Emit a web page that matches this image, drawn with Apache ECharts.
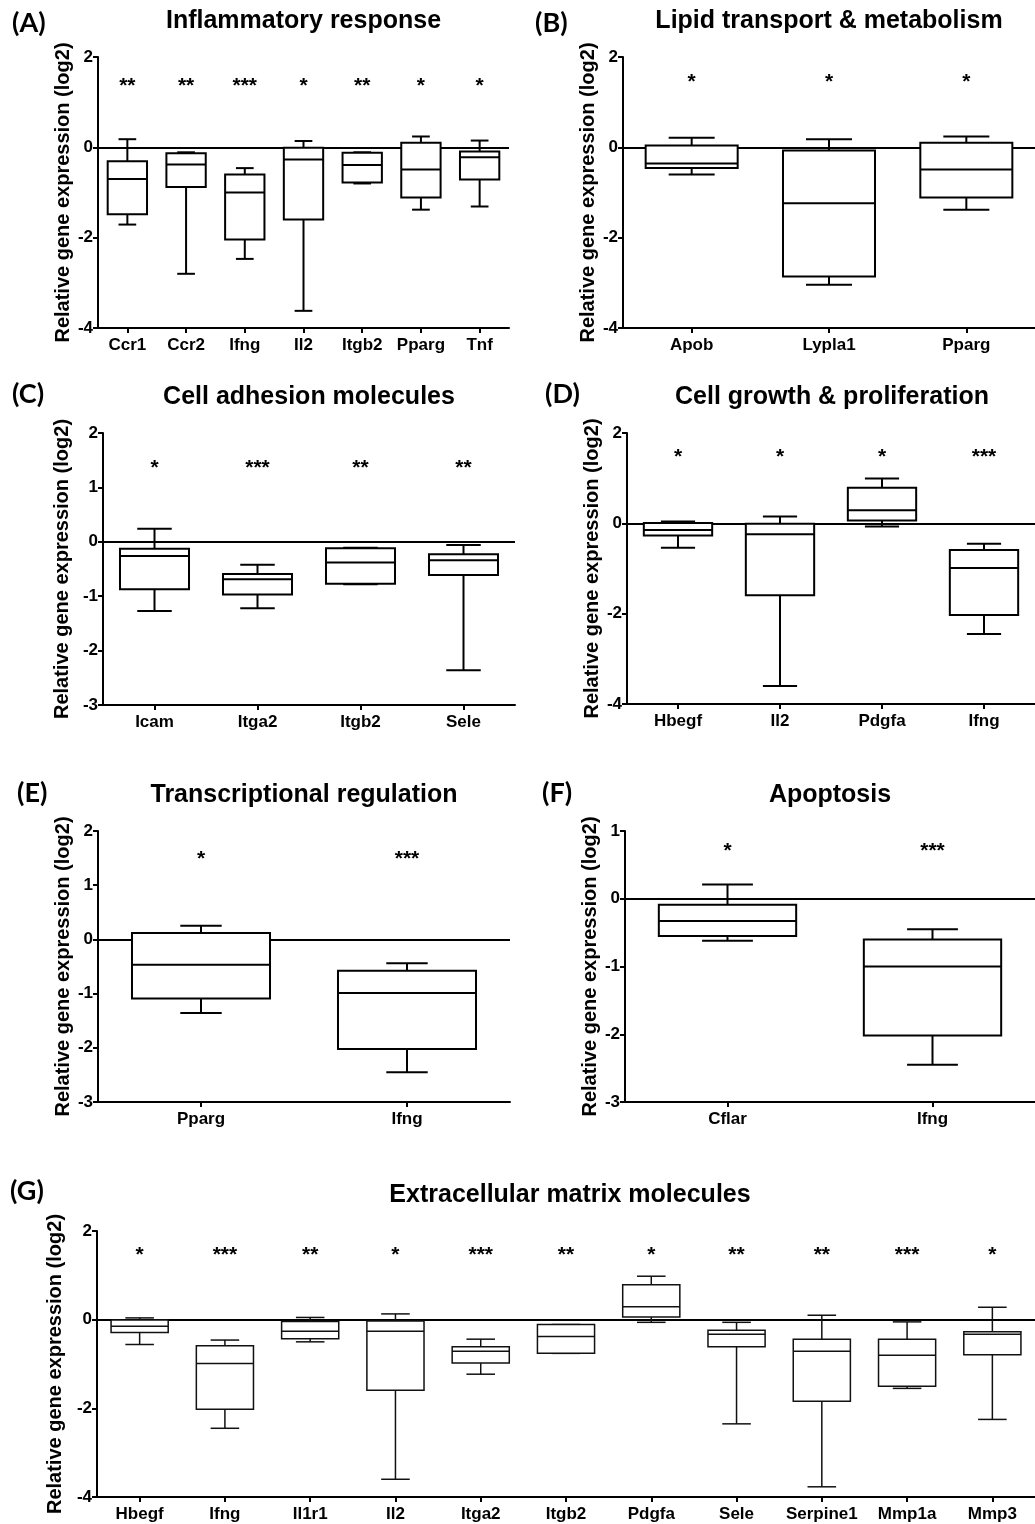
<!DOCTYPE html>
<html>
<head>
<meta charset="utf-8">
<title>Relative gene expression</title>
<script src="https://cdn.jsdelivr.net/npm/echarts@6/dist/echarts.min.js"></script>
<style>
  html, body { margin: 0; padding: 0; background: #fff; overflow: hidden; }
  #chart { width: 1035px; height: 1524px; }
</style>
</head>
<body>
<div id="chart"></div>
<script>
// Box values per gene: [min, Q1, median, Q3, max] (log2 relative expression)
const catsA = ['Ccr1', 'Ccr2', 'Ifng', 'Il2', 'Itgb2', 'Pparg', 'Tnf'];
const boxA = [
  [-1.71, -1.48, -0.70, -0.31, 0.18],
  [-2.80, -0.88, -0.38, -0.13, -0.11],
  [-2.47, -2.04, -1.00, -0.60, -0.46],
  [-3.62, -1.60, -0.27, -0.01, 0.14],
  [-0.80, -0.78, -0.39, -0.12, -0.11],
  [-1.38, -1.11, -0.49, 0.10, 0.24],
  [-1.31, -0.71, -0.22, -0.09, 0.15]
];
const sigA = ['**', '**', '***', '*', '**', '*', '*'];

const catsB = ['Apob', 'Lypla1', 'Pparg'];
const boxB = [
  [-0.60, -0.46, -0.36, 0.04, 0.21],
  [-3.04, -2.86, -1.24, -0.07, 0.18],
  [-1.38, -1.11, -0.49, 0.10, 0.24]
];
const sigB = ['*', '*', '*'];

const catsC = ['Icam', 'Itga2', 'Itgb2', 'Sele'];
const boxC = [
  [-1.27, -0.87, -0.26, -0.13, 0.24],
  [-1.22, -0.97, -0.69, -0.59, -0.42],
  [-0.78, -0.77, -0.38, -0.12, -0.11],
  [-2.36, -0.61, -0.34, -0.23, -0.06]
];
const sigC = ['*', '***', '**', '**'];

const catsD = ['Hbegf', 'Il2', 'Pdgfa', 'Ifng'];
const boxD = [
  [-0.54, -0.27, -0.15, 0.01, 0.04],
  [-3.60, -1.59, -0.24, -0.01, 0.15],
  [-0.07, 0.06, 0.29, 0.79, 0.99],
  [-2.45, -2.03, -0.99, -0.59, -0.45]
];
const sigD = ['*', '*', '*', '***'];

const catsE = ['Pparg', 'Ifng'];
const boxE = [
  [-1.36, -1.09, -0.47, 0.12, 0.25],
  [-2.45, -2.02, -0.99, -0.58, -0.44]
];
const sigE = ['*', '***'];

const catsF = ['Cflar', 'Ifng'];
const boxF = [
  [-0.62, -0.55, -0.33, -0.09, 0.21],
  [-2.45, -2.02, -1.00, -0.60, -0.45]
];
const sigF = ['*', '***'];

const catsG = ['Hbegf', 'Ifng', 'Il1r1', 'Il2', 'Itga2', 'Itgb2', 'Pdgfa', 'Sele', 'Serpine1', 'Mmp1a', 'Mmp3'];
const boxG = [
  [-0.56, -0.29, -0.15, -0.01, 0.04],
  [-2.45, -2.02, -0.99, -0.59, -0.46],
  [-0.50, -0.43, -0.26, -0.04, 0.05],
  [-3.60, -1.59, -0.26, -0.03, 0.13],
  [-1.23, -0.98, -0.71, -0.61, -0.44],
  [-0.76, -0.76, -0.38, -0.11, -0.11],
  [-0.06, 0.06, 0.29, 0.79, 0.98],
  [-2.35, -0.61, -0.33, -0.24, -0.06],
  [-3.77, -1.84, -0.71, -0.44, 0.10],
  [-1.55, -1.50, -0.80, -0.44, -0.05],
  [-2.25, -0.79, -0.33, -0.27, 0.28]
];
const sigG = ['*', '***', '**', '*', '***', '**', '*', '**', '**', '***', '*'];

const FONT = '"Liberation Sans", Arial, Helvetica, sans-serif';
const LETTER_FONT = 'Lato, "Open Sans", sans-serif';
const Y_NAME = 'Relative gene expression (log2)';

// Panel layout: plot rectangles, axis ranges and annotation placement
const panels = [
  { cats: catsA, box: boxA, sig: sigA, title: 'Inflammatory response', letter: '(A)',
    grid: { left: 98, top: 57, width: 411, height: 271 }, min: -4, max: 2, step: 2,
    star: 1.40, nameGap: 23, cap: 0.45, lw: 2, color: '#000', titleY: 21, letterX: 12, letterY: 23 },
  { cats: catsB, box: boxB, sig: sigB, title: 'Lipid transport & metabolism', letter: '(B)',
    grid: { left: 623, top: 57, width: 412, height: 271 }, min: -4, max: 2, step: 2,
    star: 1.49, nameGap: 23, cap: 0.5, lw: 2, color: '#000', titleY: 21, letterX: 535, letterY: 23 },
  { cats: catsC, box: boxC, sig: sigC, title: 'Cell adhesion molecules', letter: '(C)',
    grid: { left: 103, top: 433, width: 412, height: 272 }, min: -3, max: 2, step: 1,
    star: 1.39, nameGap: 31, cap: 0.5, lw: 2, color: '#000', titleY: 397, letterX: 12, letterY: 394 },
  { cats: catsD, box: boxD, sig: sigD, title: 'Cell growth & proliferation', letter: '(D)',
    grid: { left: 627, top: 433, width: 410, height: 271 }, min: -4, max: 2, step: 2,
    star: 1.51, nameGap: 25, cap: 0.5, lw: 2, color: '#000', titleY: 397, letterX: 545, letterY: 394 },
  { cats: catsE, box: boxE, sig: sigE, title: 'Transcriptional regulation', letter: '(E)',
    grid: { left: 98, top: 831, width: 412, height: 271 }, min: -3, max: 2, step: 1,
    star: 1.51, nameGap: 23, cap: 0.3, lw: 2, color: '#000', titleY: 795, letterX: 17, letterY: 793 },
  { cats: catsF, box: boxF, sig: sigF, title: 'Apoptosis', letter: '(F)',
    grid: { left: 625, top: 831, width: 410, height: 271 }, min: -3, max: 1, step: 1,
    star: 0.73, nameGap: 25, cap: 0.37, lw: 2, color: '#000', titleY: 795, letterX: 542, letterY: 793 },
  { cats: catsG, box: boxG, sig: sigG, title: 'Extracellular matrix molecules', letter: '(G)',
    grid: { left: 97, top: 1231, width: 946, height: 266 }, min: -4, max: 2, step: 2,
    star: 1.51, nameGap: 29, cap: 0.5, lw: 1.5, color: '#111', titleY: 1195, letterX: 10, letterY: 1191 }
];

const BOX_FRACTION = 0.67;

// Box-and-whisker glyph with short whisker caps and a significance mark above
function makeBoxRenderer(p) {
  return function (params, api) {
    const k = api.value(0);
    const pMin = api.coord([k, api.value(1)]);
    const pQ1 = api.coord([k, api.value(2)]);
    const pMed = api.coord([k, api.value(3)]);
    const pQ3 = api.coord([k, api.value(4)]);
    const pMax = api.coord([k, api.value(5)]);
    const pStar = api.coord([k, p.star]);
    const band = api.size([1, 0])[0];
    const half = band * BOX_FRACTION / 2;
    const cap = half * p.cap;
    const cx = pMed[0];
    const line = { stroke: p.color, lineWidth: p.lw, fill: null };
    return {
      type: 'group',
      children: [
        { type: 'line', shape: { x1: cx, y1: pQ3[1], x2: cx, y2: pMax[1] }, style: line },
        { type: 'line', shape: { x1: cx - cap, y1: pMax[1], x2: cx + cap, y2: pMax[1] }, style: line },
        { type: 'line', shape: { x1: cx, y1: pQ1[1], x2: cx, y2: pMin[1] }, style: line },
        { type: 'line', shape: { x1: cx - cap, y1: pMin[1], x2: cx + cap, y2: pMin[1] }, style: line },
        { type: 'rect', shape: { x: cx - half, y: pQ3[1], width: half * 2, height: pQ1[1] - pQ3[1] },
          style: { fill: '#fff', stroke: p.color, lineWidth: p.lw } },
        { type: 'line', shape: { x1: cx - half, y1: pMed[1], x2: cx + half, y2: pMed[1] }, style: line },
        { type: 'text', x: cx, y: pStar[1] + 2,
          style: { text: p.sig[params.dataIndex], fill: '#000', fontFamily: FONT, fontWeight: 'bold',
                   fontSize: 21, align: 'center', verticalAlign: 'middle' } }
      ]
    };
  };
}

const axisLabelStyle = { color: '#000', fontFamily: FONT, fontWeight: 'bold', fontSize: 17 };
const axisLine = { show: true, onZero: false, lineStyle: { color: '#000', width: 2 } };
const axisTick = { show: true, length: 5, lineStyle: { color: '#000', width: 2 } };

const option = {
  animation: false,
  backgroundColor: '#fff',
  grid: panels.map(p => Object.assign({ containLabel: false }, p.grid)),
  xAxis: panels.map((p, i) => ({
    gridIndex: i,
    type: 'category',
    data: p.cats,
    boundaryGap: true,
    axisLine: axisLine,
    axisTick: Object.assign({ alignWithLabel: true }, axisTick),
    axisLabel: Object.assign({ margin: 9, interval: 0 }, axisLabelStyle),
    splitLine: { show: false }
  })),
  yAxis: panels.map((p, i) => ({
    gridIndex: i,
    type: 'value',
    min: p.min,
    max: p.max,
    interval: p.step,
    axisLine: axisLine,
    axisTick: axisTick,
    axisLabel: Object.assign({ margin: 5 }, axisLabelStyle),
    splitLine: { show: false },
    name: Y_NAME,
    nameLocation: 'middle',
    nameGap: p.nameGap,
    nameTextStyle: { color: '#000', fontFamily: FONT, fontWeight: 'bold', fontSize: 20 }
  })),
  series: panels.map((p, i) => ({
    type: 'custom',
    xAxisIndex: i,
    yAxisIndex: i,
    silent: true,
    z: 10,
    data: p.box.map((b, k) => [k].concat(b)),
    encode: { x: 0, y: [1, 2, 3, 4, 5] },
    renderItem: makeBoxRenderer(p),
    markLine: {
      silent: true,
      z: 1,
      symbol: ['none', 'none'],
      label: { show: false },
      lineStyle: { color: '#000', width: 2, type: 'solid' },
      data: [{ yAxis: 0 }]
    }
  })),
  graphic: { elements: [].concat(
    panels.map(p => ({
      type: 'text',
      x: p.grid.left + p.grid.width / 2,
      y: p.titleY,
      style: { text: p.title, fill: '#000', fontFamily: FONT, fontWeight: 'bold', fontSize: 25,
               align: 'center', verticalAlign: 'middle' }
    })),
    panels.map(p => ({
      type: 'text',
      x: p.letterX,
      y: p.letterY,
      style: { text: p.letter, fill: '#000', fontFamily: LETTER_FONT, fontWeight: 'bold', fontSize: 27,
               align: 'left', verticalAlign: 'middle' }
    }))
  ) }
};

const chart = echarts.init(document.getElementById('chart'), null, { renderer: 'canvas' });
chart.setOption(option);
</script>
</body>
</html>
